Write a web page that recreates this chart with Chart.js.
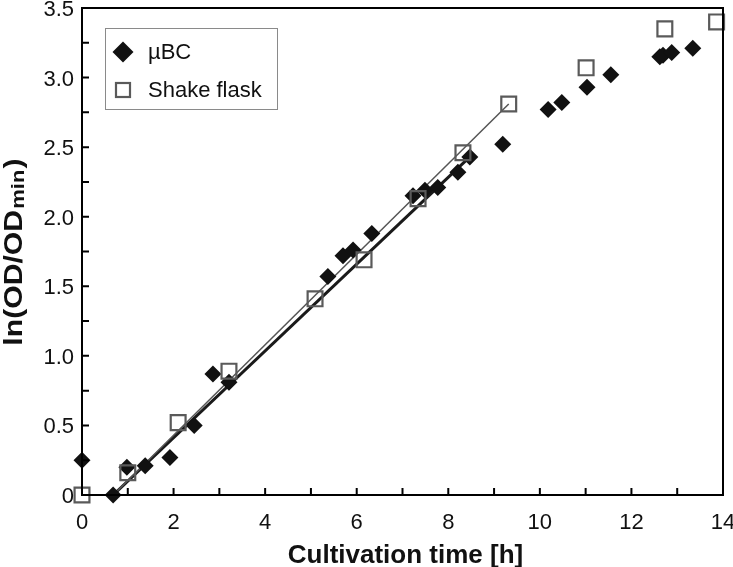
<!DOCTYPE html>
<html>
<head>
<meta charset="utf-8">
<script src="https://cdn.jsdelivr.net/npm/chart.js@4/dist/chart.umd.min.js"></script>
<style>
  body { margin: 0; background: #fff; }
  #wrap { width: 733px; height: 567px; }
</style>
</head>
<body>
<div id="wrap"><canvas id="growthChart"></canvas></div>
<script>
// --- Data ---
const ubcTime = [0, 0.68, 0.98, 1.38, 1.92, 2.45, 2.86, 3.21, 5.37, 5.70, 5.92, 6.33, 7.23, 7.49, 7.77, 8.21, 8.47, 9.19, 10.18, 10.48, 11.03, 11.55, 12.62, 12.69, 12.88, 13.34];
const ubcLn   = [0.25, 0, 0.20, 0.21, 0.27, 0.50, 0.87, 0.81, 1.57, 1.72, 1.76, 1.88, 2.15, 2.19, 2.21, 2.32, 2.43, 2.52, 2.77, 2.82, 2.93, 3.02, 3.15, 3.16, 3.18, 3.21];

const flaskTime = [0, 1.00, 2.10, 3.21, 5.09, 6.16, 7.34, 8.32, 9.32, 11.01, 12.73, 13.86];
const flaskLn   = [0, 0.16, 0.52, 0.89, 1.41, 1.69, 2.13, 2.46, 2.81, 3.07, 3.35, 3.40];

// linear fits drawn in the figure (end points)
const ubcFitTime = [0.68, 8.47];
const ubcFitLn = [0, 2.43];
const flaskFitTime = [0.68, 9.32];
const flaskFitLn = [0, 2.81];

const seriesNames = ['µBC', 'Shake flask'];
const xTitle = 'Cultivation time [h]';
const yTitleMain = 'ln(OD/OD';
const yTitleSub = 'min';
const yTitleEnd = ')';

const toPoints = (xs, ys) => xs.map((x, i) => ({ x: x, y: ys[i] }));

// --- Plugins: frame, inward ticks, titles, legend ---
const framePlugin = {
    id: 'frame',
    afterDraw(chart) {
        const ctx = chart.ctx;
        const a = chart.chartArea;
        ctx.save();
        ctx.strokeStyle = '#000';
        ctx.lineWidth = 2;
        ctx.strokeRect(a.left, a.top, a.right - a.left, a.bottom - a.top);

        // inward tick marks
        const xs = chart.scales.x, ys = chart.scales.y;
        ctx.beginPath();
        xs.ticks.forEach(t => {
            const px = xs.getPixelForValue(t.value);
            ctx.moveTo(px, a.bottom);
            ctx.lineTo(px, a.bottom - 7);
        });
        ys.ticks.forEach(t => {
            const py = ys.getPixelForValue(t.value);
            ctx.moveTo(a.left, py);
            ctx.lineTo(a.left + 7, py);
        });
        ctx.stroke();

        // x title
        ctx.fillStyle = '#111';
        ctx.font = 'bold 26px "Liberation Sans", Arial, sans-serif';
        ctx.textAlign = 'center';
        ctx.textBaseline = 'alphabetic';
        ctx.fillText(xTitle, (a.left + a.right) / 2 + 3, 563);

        // y title with subscript
        const mainFont = 'bold 26px "Liberation Sans", Arial, sans-serif';
        const subFont = 'bold 19px "Liberation Sans", Arial, sans-serif';
        ctx.font = mainFont;
        const w1 = ctx.measureText(yTitleMain).width;
        const w3 = ctx.measureText(yTitleEnd).width;
        ctx.font = subFont;
        const w2 = ctx.measureText(yTitleSub).width;
        const total = w1 + w2 + w3 + 2;
        ctx.translate(22, 252);
        ctx.rotate(-Math.PI / 2);
        ctx.scale(1.16, 1);
        ctx.textAlign = 'left';
        let cx = -total / 2;
        ctx.font = mainFont;
        ctx.fillText(yTitleMain, cx, 0);
        cx += w1 + 1;
        ctx.font = subFont;
        ctx.fillText(yTitleSub, cx, 2);
        cx += w2 + 1;
        ctx.font = mainFont;
        ctx.fillText(yTitleEnd, cx, 0);
        ctx.restore();
    }
};

const legendPlugin = {
    id: 'boxLegend',
    afterDraw(chart) {
        const ctx = chart.ctx;
        ctx.save();
        ctx.fillStyle = '#fff';
        ctx.fillRect(105, 28, 173, 82);
        ctx.strokeStyle = '#8a8a8a';
        ctx.lineWidth = 1;
        ctx.strokeRect(105.5, 28.5, 172, 81);

        // diamond
        ctx.fillStyle = '#111';
        ctx.beginPath();
        ctx.moveTo(123 - 10.5, 52);
        ctx.lineTo(123, 52 - 10.5);
        ctx.lineTo(123 + 10.5, 52);
        ctx.lineTo(123, 52 + 10.5);
        ctx.closePath();
        ctx.fill();

        // square
        ctx.strokeStyle = '#5a5a5a';
        ctx.lineWidth = 2.2;
        ctx.strokeRect(116, 83, 14, 14);

        ctx.fillStyle = '#111';
        ctx.font = '22px "Liberation Sans", Arial, sans-serif';
        ctx.textAlign = 'left';
        ctx.textBaseline = 'middle';
        ctx.fillText(seriesNames[0], 148, 53);
        ctx.fillText(seriesNames[1], 148, 91);
        ctx.restore();
    }
};

const isHalf = v => Math.abs(v * 2 - Math.round(v * 2)) < 1e-9;

new Chart(document.getElementById('growthChart'), {
    type: 'scatter',
    data: {
        datasets: [
            {
                label: 'µBC fit',
                type: 'line',
                data: toPoints(ubcFitTime, ubcFitLn),
                borderColor: '#1a1a1a',
                borderWidth: 3,
                pointRadius: 0,
                order: 3
            },
            {
                label: 'Shake flask fit',
                type: 'line',
                data: toPoints(flaskFitTime, flaskFitLn),
                borderColor: '#555',
                borderWidth: 1.5,
                pointRadius: 0,
                order: 2
            },
            {
                label: seriesNames[0],
                data: toPoints(ubcTime, ubcLn),
                pointStyle: 'rectRot',
                pointRadius: 8.5,
                backgroundColor: '#111',
                borderColor: '#111',
                borderWidth: 0,
                clip: false,
                order: 1
            },
            {
                label: seriesNames[1],
                data: toPoints(flaskTime, flaskLn),
                pointStyle: 'rect',
                pointRadius: 10.5,
                backgroundColor: 'rgba(255,255,255,0)',
                borderColor: '#5a5a5a',
                borderWidth: 2.2,
                clip: false,
                order: 0
            }
        ]
    },
    options: {
        responsive: true,
        maintainAspectRatio: false,
        animation: false,
        layout: { autoPadding: false, padding: { top: 8, right: 10, left: 0, bottom: 0 } },
        plugins: {
            legend: { display: false },
            tooltip: { enabled: false }
        },
        scales: {
            x: {
                type: 'linear',
                min: 0,
                max: 14,
                afterFit: s => { s.height = 72; s.paddingLeft = 0; s.paddingRight = 0; },
                grid: { drawOnChartArea: false, drawTicks: false },
                border: { display: true, color: '#000', width: 2 },
                ticks: {
                    stepSize: 1,
                    autoSkip: false,
                    maxRotation: 0,
                    padding: 15,
                    color: '#111',
                    font: { family: '"Liberation Sans", Arial, sans-serif', size: 22 },
                    callback: v => (v % 2 === 0 ? String(v) : '')
                }
            },
            y: {
                type: 'linear',
                min: 0,
                max: 3.5,
                afterFit: s => { s.width = 82; s.paddingTop = 0; s.paddingBottom = 0; },
                grid: { drawOnChartArea: false, drawTicks: false },
                border: { display: true, color: '#000', width: 2 },
                ticks: {
                    stepSize: 0.25,
                    autoSkip: false,
                    padding: 8,
                    labelOffset: 2,
                    color: '#111',
                    font: { family: '"Liberation Sans", Arial, sans-serif', size: 22 },
                    callback: v => (isHalf(v) ? (v === 0 ? '0' : v.toFixed(1)) : '')
                }
            }
        }
    },
    plugins: [framePlugin, legendPlugin]
});
</script>
</body>
</html>
